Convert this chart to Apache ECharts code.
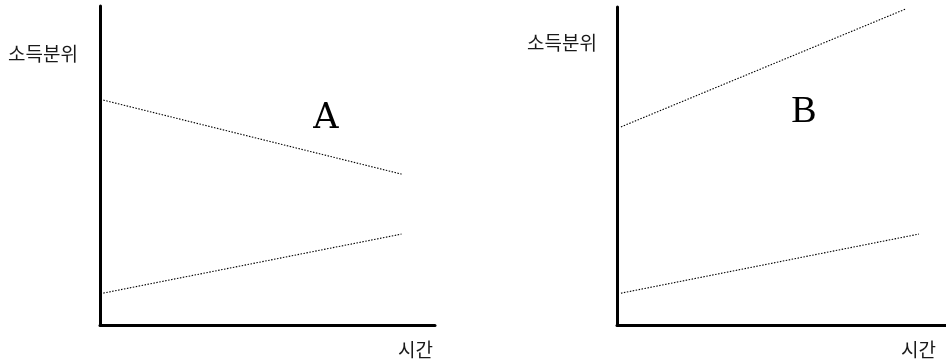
<!DOCTYPE html>
<html>
<head>
<meta charset="utf-8">
<script src="https://cdn.jsdelivr.net/npm/echarts@6/dist/echarts.min.js"></script>
<style>html,body{margin:0;padding:0;background:#fff}#c{width:946px;height:362px}</style>
</head>
<body>
<div id="c"></div>
<script>
// Panel A (left): time -> income quantile
var aTime = [0.1, 9.0];
var aUpper = [7.05, 4.73];
var aLower = [1.0, 2.85];
// Panel B (right)
var bUpperTime = [0.12, 8.78];
var bUpper = [6.23, 9.94];
var bLowerTime = [0.12, 9.18];
var bLower = [1.0, 2.86];
var yLabel = '소득분위';
var xLabel = '시간';
var panelNames = ['A', 'B'];

function pairs(xs, ys) { return xs.map(function (x, i) { return [x, ys[i]]; }); }

var chart = echarts.init(document.getElementById('c'), null, { renderer: 'canvas' });
var axisCommon = {
  type: 'value', min: 0, max: 10,
  axisLine: { show: true, lineStyle: { color: '#000', width: 3 } },
  axisTick: { show: false }, axisLabel: { show: false }, splitLine: { show: false }
};
var dotted = { color: '#000', width: 1.1, type: [1.5, 1.5] };
function lineSeries(idx, data) {
  return { type: 'line', xAxisIndex: idx, yAxisIndex: idx, data: data, symbol: 'none',
    lineStyle: dotted, silent: true, animation: false };
}
var labelFont = '19px "Noto Sans CJK KR"';
chart.setOption({
  animation: false,
  grid: [
    { left: 100, top: 6, width: 335, height: 319 },
    { left: 617, top: 7, width: 329, height: 318 }
  ],
  xAxis: [
    Object.assign({ gridIndex: 0 }, axisCommon),
    Object.assign({ gridIndex: 1 }, axisCommon)
  ],
  yAxis: [
    Object.assign({ gridIndex: 0 }, axisCommon),
    Object.assign({ gridIndex: 1 }, axisCommon)
  ],
  series: [
    lineSeries(0, pairs(aTime, aUpper)),
    lineSeries(0, pairs(aTime, aLower)),
    lineSeries(1, pairs(bUpperTime, bUpper)),
    lineSeries(1, pairs(bLowerTime, bLower))
  ],
  graphic: [
    { type: 'text', x: 8, y: 54, style: { text: yLabel, font: labelFont, fill: '#1a1a1a', verticalAlign: 'middle' } },
    { type: 'text', x: 398, y: 350, style: { text: xLabel, font: labelFont, fill: '#1a1a1a', verticalAlign: 'middle' } },
    { type: 'text', x: 527, y: 43, style: { text: yLabel, font: labelFont, fill: '#1a1a1a', verticalAlign: 'middle' } },
    { type: 'text', x: 901, y: 350, style: { text: xLabel, font: labelFont, fill: '#1a1a1a', verticalAlign: 'middle' } },
    { type: 'text', x: 326, y: 119, style: { text: panelNames[0], font: '35px "DejaVu Serif"', fill: '#000', align: 'center', verticalAlign: 'middle' } },
    { type: 'text', x: 804, y: 112, style: { text: panelNames[1], font: '38px "Liberation Serif"', fill: '#000', align: 'center', verticalAlign: 'middle' } }
  ]
});
</script>
</body>
</html>
